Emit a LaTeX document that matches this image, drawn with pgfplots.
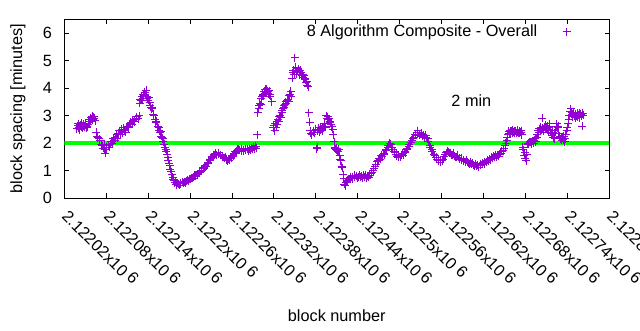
\documentclass[border=0pt]{standalone}
\usepackage{pgfplots}
\pgfplotsset{compat=1.18}
\usepackage{fontspec}
\setmainfont{Liberation Sans}
\definecolor{ptcol}{HTML}{9400D3}
\definecolor{lncol}{HTML}{00FF00}
% x column: block number minus 2122000
\newcommand{\tl}[1]{#1x10\hspace{0.25em}\raisebox{0.3ex}{6}}
\begin{document}
\fontsize{12.2}{14.6}\selectfont
\begin{tikzpicture}
\begin{axis}[
  scale only axis, width=408.75pt, height=134pt,
  xmin=20, xmax=800, ymin=0, ymax=6.5,
  xtick={20,80,...,800},
  xticklabels={\tl{2.12202},\tl{2.12208},\tl{2.12214},\tl{2.1222},\tl{2.12226},\tl{2.12232},\tl{2.12238},\tl{2.12244},\tl{2.1225},\tl{2.12256},\tl{2.12262},\tl{2.12268},\tl{2.12274},\tl{2.1228}},
  ytick={0,1,...,6},
  /pgf/number format/assume math mode=true,
  tick align=inside, major tick length=3.5pt,
  tick style={black, line width=0.6pt},
  axis line style={line width=0.75pt},
  xticklabel style={anchor=north west, inner sep=0pt, xshift=5pt, yshift=-7pt, rotate=-45},
  yticklabel style={xshift=-5pt},
  xlabel={block number}, ylabel={block spacing [minutes]},
  every axis x label/.style={at={([yshift=-88.5pt]axis description cs:0.5,0)}, anchor=center},
  every axis y label/.style={at={([xshift=-34.7pt]axis description cs:0,0.5)}, anchor=center, rotate=90},
  legend style={draw=none, fill=none, at={(rel axis cs:0.937,0.93)}, anchor=east, legend cell align=right,
    /tikz/every odd column/.append style={column sep=17pt}},
  legend plot pos=right,
]
\addplot[only marks, mark=+, mark size=3pt, ptcol, mark options={line width=0.7pt}] table {
x y
38 2.52
39 2.63
40 2.70
41 2.55
42 2.48
43 2.66
44 2.74
45 2.60
46 2.55
47 2.68
48 2.62
49 2.58
50 2.71
51 2.64
52 2.56
53 2.60
54 2.68
55 2.78
56 2.85
57 2.80
58 2.92
59 2.88
60 2.98
61 2.84
62 2.95
63 2.90
64 2.81
66 2.40
67 2.25
68 2.20
70 2.15
71 2.08
73 1.95
74 1.90
76 1.82
77 1.95
78 1.78
79 1.62
80 1.75
81 1.85
83 1.92
84 1.85
86 1.95
87 2.05
89 2.00
90 2.15
92 2.10
93 2.20
95 2.30
96 2.18
97 2.35
99 2.45
100 2.30
102 2.50
103 2.38
105 2.55
106 2.45
108 2.40
109 2.58
111 2.62
112 2.55
114 2.70
115 2.75
117 2.68
118 2.82
120 2.85
121 2.78
123 2.90
124 2.95
126 2.88
127 3.00
128 3.45
129 3.60
130 3.55
131 3.70
132 3.62
133 3.75
134 3.68
135 3.85
136 3.78
137 3.92
138 3.70
139 3.62
140 3.55
141 3.65
142 3.48
143 3.35
144 3.30
145 3.25
146 3.28
147 3.05
148 3.00
150 2.85
151 2.75
152 2.80
154 2.60
155 2.55
156 2.45
157 2.38
158 2.42
159 2.25
160 2.20
161 2.15
162 2.05
163 1.95
164 1.85
165 1.78
166 1.70
167 1.60
168 1.48
169 1.38
170 1.25
171 1.18
172 1.05
173 0.95
174 0.85
175 0.75
176 0.68
177 0.62
178 0.55
179 0.58
180 0.50
181 0.48
182 0.55
183 0.52
185 0.47
186 0.55
187 0.52
189 0.58
190 0.53
192 0.60
193 0.56
195 0.62
196 0.66
198 0.63
199 0.70
201 0.68
202 0.74
204 0.72
205 0.78
207 0.82
208 0.80
210 0.88
211 0.85
213 0.95
214 0.92
216 1.02
217 1.00
219 1.10
220 1.08
222 1.18
223 1.15
225 1.25
226 1.30
228 1.38
229 1.42
231 1.50
232 1.48
234 1.58
235 1.55
237 1.62
238 1.58
240 1.64
241 1.60
243 1.55
244 1.58
246 1.50
247 1.54
249 1.45
250 1.48
252 1.40
253 1.35
255 1.42
256 1.38
258 1.48
259 1.45
261 1.55
262 1.52
264 1.62
265 1.68
267 1.72
268 1.78
270 1.80
271 1.74
273 1.78
274 1.70
276 1.76
277 1.72
279 1.80
280 1.74
282 1.78
283 1.72
285 1.80
286 1.76
288 1.82
289 1.78
291 1.85
292 1.80
294 1.88
295 1.82
296 2.30
297 3.10
298 3.25
299 3.38
300 3.45
301 3.40
302 3.62
303 3.70
304 3.78
305 3.72
306 3.88
307 3.82
308 3.95
309 3.85
310 3.98
311 3.88
312 3.80
313 3.90
314 3.75
315 3.70
317 3.50
319 2.55
320 2.65
321 2.45
322 2.70
323 2.58
324 2.78
325 2.68
326 2.85
327 2.80
328 2.95
329 3.00
330 2.92
331 3.10
332 3.18
333 3.25
334 3.35
335 3.30
336 3.42
337 3.50
338 3.45
339 3.55
340 3.60
341 3.52
342 3.72
343 3.78
344 3.88
345 3.70
346 4.35
347 4.55
348 4.65
349 4.50
350 5.10
351 4.75
352 4.60
353 4.50
354 4.62
355 4.70
356 4.55
357 4.48
358 4.65
359 4.58
360 4.45
361 4.50
362 4.40
363 4.45
364 4.35
365 4.30
366 4.20
367 4.25
368 4.10
369 4.05
370 3.10
371 2.75
372 2.45
373 2.35
374 2.30
376 2.40
377 2.45
378 2.38
380 2.50
381 1.80
382 1.85
383 2.45
384 2.55
385 2.40
386 2.48
387 2.58
388 2.50
389 2.45
390 2.60
391 2.55
392 2.62
393 2.70
394 2.58
395 3.00
396 2.90
397 2.95
398 2.85
399 2.88
400 2.80
401 2.75
402 2.68
403 2.60
404 2.50
405 2.30
406 2.05
407 1.85
408 1.80
409 1.75
410 1.82
411 1.72
412 1.70
413 1.78
414 1.55
415 1.40
416 1.35
417 1.15
418 1.10
419 0.85
420 0.70
421 0.50
422 0.45
423 0.55
424 0.62
425 0.58
426 0.65
427 0.70
428 0.68
429 0.72
430 0.75
432 0.70
433 0.78
435 0.82
436 0.76
438 0.80
439 0.72
441 0.78
442 0.84
444 0.75
445 0.80
447 0.74
448 0.82
450 0.78
451 0.85
453 0.72
454 0.80
456 0.76
457 0.82
459 0.88
460 0.92
462 1.00
463 1.08
465 1.15
466 1.22
468 1.32
469 1.38
471 1.45
472 1.42
474 1.55
475 1.50
477 1.62
478 1.58
480 1.72
481 1.78
483 1.85
484 1.92
486 2.00
487 1.95
489 1.85
490 1.78
492 1.70
493 1.65
495 1.60
496 1.52
498 1.48
499 1.55
501 1.50
502 1.58
504 1.62
505 1.55
507 1.68
508 1.65
510 1.75
511 1.80
513 1.88
514 1.95
516 2.02
517 2.10
519 2.15
520 2.22
522 2.30
523 2.28
525 2.38
526 2.45
528 2.32
529 2.28
531 2.35
532 2.25
534 2.30
535 2.22
537 2.28
538 2.20
540 2.15
541 2.05
543 1.92
544 1.85
546 1.75
547 1.68
549 1.60
550 1.55
552 1.48
553 1.42
555 1.38
556 1.35
558 1.30
559 1.38
561 1.35
562 1.42
564 1.52
565 1.58
567 1.65
568 1.70
570 1.68
571 1.62
573 1.65
574 1.58
576 1.55
577 1.62
579 1.52
580 1.50
582 1.48
583 1.55
585 1.45
586 1.42
588 1.45
589 1.38
591 1.40
592 1.35
594 1.32
595 1.38
597 1.30
598 1.28
600 1.25
601 1.30
603 1.22
604 1.26
606 1.20
607 1.15
609 1.22
610 1.18
612 1.20
613 1.12
615 1.25
616 1.20
618 1.22
619 1.28
621 1.25
622 1.32
624 1.30
625 1.38
627 1.35
628 1.42
630 1.40
631 1.48
633 1.45
634 1.52
636 1.48
637 1.55
639 1.50
640 1.58
642 1.52
643 1.60
645 1.62
646 1.70
648 1.72
649 1.80
651 1.90
652 2.00
653 2.08
654 2.20
655 2.30
656 2.42
657 2.35
658 2.45
659 2.38
660 2.42
661 2.48
662 2.35
663 2.40
664 2.45
665 2.38
666 2.42
667 2.35
668 2.40
669 2.48
670 2.38
671 2.42
672 2.35
673 2.40
674 2.45
675 2.30
676 1.85
677 1.75
678 1.55
679 1.65
680 1.45
681 1.35
682 1.60
683 1.95
684 2.00
685 1.98
686 2.02
687 2.05
688 1.98
689 2.02
690 2.08
691 2.05
692 2.00
693 2.10
694 2.15
695 2.05
696 2.20
697 2.30
698 2.45
699 2.38
700 2.52
701 2.45
702 2.58
703 2.48
704 2.90
705 2.55
706 2.45
707 2.60
708 2.50
709 2.65
710 2.55
711 2.48
712 2.62
713 2.40
714 2.58
715 2.70
716 2.45
717 2.35
718 2.28
719 2.40
720 2.20
721 2.35
722 2.15
723 2.45
724 2.60
725 2.70
726 2.55
727 2.62
728 2.35
729 2.25
730 2.15
731 2.22
732 2.10
733 2.18
734 2.12
735 2.25
736 2.05
737 2.15
738 2.30
739 2.45
740 2.55
741 2.70
742 2.85
743 3.00
744 3.15
745 3.25
746 3.10
747 3.05
748 2.95
749 3.08
750 3.00
751 2.92
752 3.05
753 2.98
754 3.10
755 2.95
756 3.02
757 3.08
758 2.92
759 3.05
760 3.00
761 2.62
762 3.08
763 3.02
};
\addlegendentry{8 Algorithm Composite - Overall}
\addplot[lncol, line width=3pt, forget plot] coordinates {(20,2) (800,2)};
\node[anchor=west] at (axis cs:566,3.53) {2 min};
\end{axis}
\pgfresetboundingbox
\useasboundingbox (-48.2pt,-99pt) rectangle (431.8pt,148.5pt);
\end{tikzpicture}
\end{document}
